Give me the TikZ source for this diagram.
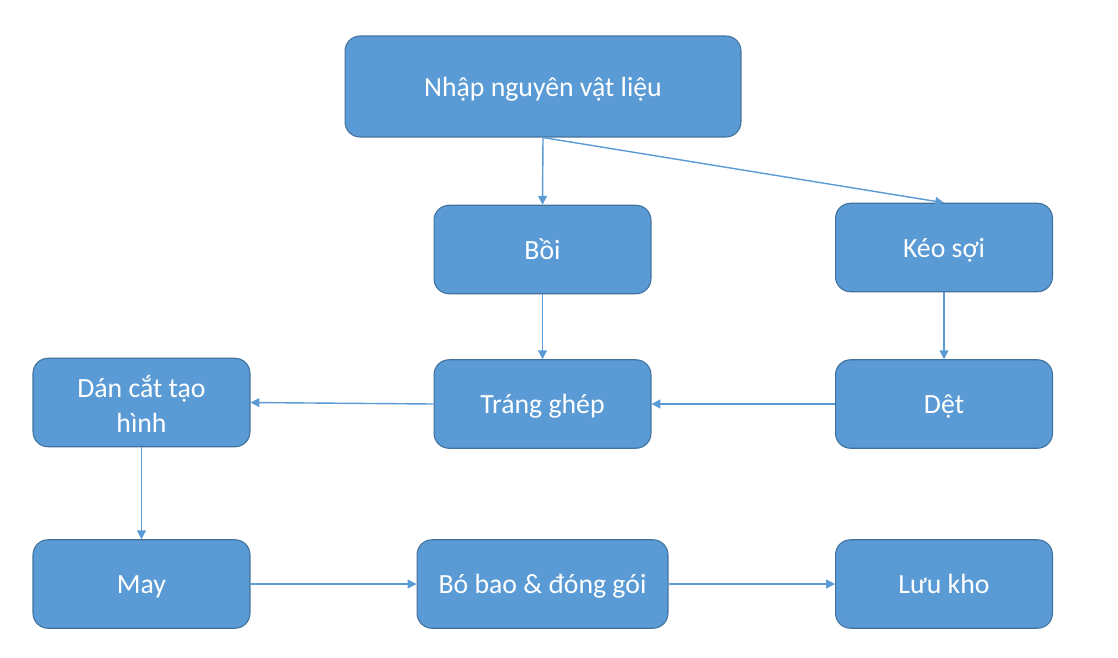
\documentclass[tikz,border=0pt]{standalone}
\usepackage{fontspec}
\setmainfont{Carlito}
\usetikzlibrary{arrows.meta}
\definecolor{boxfill}{HTML}{5B9BD5}
\definecolor{boxline}{HTML}{41719C}
\begin{document}
\begin{tikzpicture}[x=0.02cm,y=-0.02cm,
  box/.style={draw=boxline,line width=0.6pt,fill=boxfill,rounded corners=0.3cm,
    text=white,font=\fontsize{15.8}{19.8}\selectfont,align=center,
    minimum width=4.34cm,minimum height=1.77cm,inner sep=0pt},
  one/.style={text height=15pt,text depth=3.7pt},
  conn/.style={draw=boxfill,line width=0.8pt,-{Triangle[length=5pt,width=5pt]}}]
\useasboundingbox (0,0) rectangle (1118,657);
\node[box,one,minimum width=7.92cm,minimum height=2.02cm] (nhap) at (543,86.5) {Nhập nguyên vật liệu};
\node[box,one] (boi) at (542.5,249.5) {Bồi};
\node[box,one] (keo) at (944,247.5) {Kéo sợi};
\node[box,one] (trang) at (542.5,404) {Tráng ghép};
\node[box,one] (det) at (944,404) {Dệt};
\node[box] (dan) at (141.5,402.5) {\rule{0pt}{14pt}Dán cắt tạo\\hình};
\node[box,one] (may) at (141.5,584) {May};
\node[box,one,minimum width=5.02cm] (bo) at (542.5,584) {Bó bao \& đóng gói};
\node[box,one] (luu) at (944,584) {Lưu kho};
\draw[conn] (nhap.south) -- (boi.north);
\draw[conn] (nhap.south) -- (keo.north);
\draw[conn] (boi.south) -- (trang.north);
\draw[conn] (keo.south) -- (det.north);
\draw[conn] (det.west) -- (trang.east);
\draw[conn] (trang.west) -- (dan.east);
\draw[conn] (dan.south) -- (may.north);
\draw[conn] (may.east) -- (bo.west);
\draw[conn] (bo.east) -- (luu.west);
\end{tikzpicture}
\end{document}
